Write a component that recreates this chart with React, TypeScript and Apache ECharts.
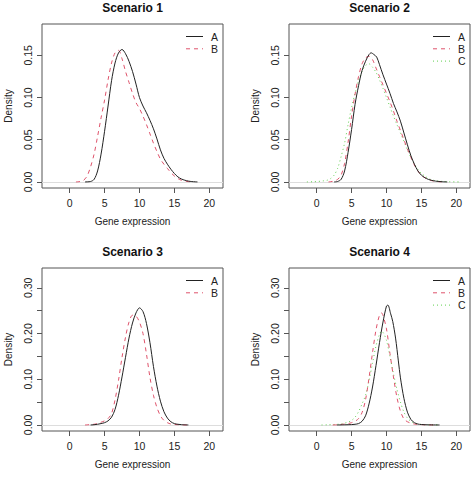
import React, { useEffect, useRef } from "react";
import * as echarts from "echarts";

// ---------- data ----------
const xTicks = [0, 5, 10, 15, 20];
const yTicksTop = [0, 0.05, 0.1, 0.15];
const yLabelsTop = [0, 0.05, 0.1, 0.15];
const yTicksBottom = [0, 0.05, 0.1, 0.15, 0.2, 0.25, 0.3];
const yLabelsBottom = [0, 0.1, 0.2, 0.3];
const titles = ["Scenario 1", "Scenario 2", "Scenario 3", "Scenario 4"];

// Scenario 1
const s1A_x = [2.2, 3, 3.5, 4, 4.5, 5, 5.5, 6, 6.5, 7, 7.5, 8, 8.5, 9, 9.5, 10, 10.5, 11, 11.5, 12, 12.5, 13, 13.5, 14, 14.5, 15, 15.5, 16, 16.5, 17, 17.5, 18.3];
const s1A_y = [0, 0.0005, 0.003, 0.013, 0.033, 0.06, 0.09, 0.12, 0.141, 0.153, 0.157, 0.152, 0.143, 0.131, 0.116, 0.1, 0.09, 0.082, 0.073, 0.063, 0.051, 0.038, 0.028, 0.021, 0.015, 0.01, 0.006, 0.0035, 0.002, 0.001, 0.0004, 0];
const s1B_x = [0.9, 1.5, 2, 2.5, 3, 3.5, 4, 4.5, 5, 5.5, 6, 6.5, 7, 7.5, 8, 8.5, 9, 9.5, 10, 10.5, 11, 11.5, 12, 12.5, 13, 13.5, 14, 14.5, 15, 15.5, 16, 16.5, 17, 17.6];
const s1B_y = [0, 0.0005, 0.002, 0.007, 0.018, 0.033, 0.054, 0.076, 0.097, 0.121, 0.141, 0.153, 0.156, 0.146, 0.131, 0.118, 0.105, 0.094, 0.087, 0.078, 0.068, 0.057, 0.046, 0.036, 0.027, 0.021, 0.016, 0.011, 0.007, 0.004, 0.002, 0.001, 0.0004, 0];

// Scenario 2
const s2A_x = [2.5, 3, 3.5, 4, 4.5, 5, 5.5, 6, 6.5, 7, 7.5, 7.8, 8.2, 8.6, 9, 9.5, 10, 10.5, 11, 11.5, 12, 12.5, 13, 13.5, 14, 14.5, 15, 15.5, 16, 16.5, 17, 17.5, 18, 18.7];
const s2A_y = [0, 0.0005, 0.003, 0.013, 0.035, 0.062, 0.092, 0.114, 0.132, 0.143, 0.151, 0.153, 0.151, 0.148, 0.139, 0.127, 0.116, 0.105, 0.093, 0.083, 0.072, 0.058, 0.044, 0.031, 0.021, 0.013, 0.008, 0.005, 0.003, 0.0018, 0.001, 0.0005, 0.0002, 0];
const s2B_x = [1.7, 2, 2.5, 3, 3.5, 4, 4.5, 5, 5.5, 6, 6.5, 7, 7.5, 8, 8.5, 9, 9.5, 10, 10.5, 11, 11.5, 12, 12.5, 13, 13.5, 14, 14.5, 15, 15.5, 16, 16.5, 17, 17.5, 18.5];
const s2B_y = [0, 0.0003, 0.001, 0.003, 0.008, 0.022, 0.047, 0.078, 0.104, 0.125, 0.14, 0.147, 0.149, 0.145, 0.135, 0.125, 0.115, 0.105, 0.095, 0.084, 0.072, 0.061, 0.05, 0.039, 0.029, 0.02, 0.013, 0.008, 0.005, 0.003, 0.0015, 0.0008, 0.0003, 0];
const s2C_x = [-1.4, -0.5, 0, 0.5, 1, 1.5, 2, 2.5, 3, 3.5, 4, 4.5, 5, 5.5, 6, 6.5, 7, 7.5, 8, 8.5, 9, 9.5, 10, 10.5, 11, 11.5, 12, 12.5, 13, 13.5, 14, 14.5, 15, 15.5, 16, 16.5, 17, 18, 19, 20.4];
const s2C_y = [0, 0.0002, 0.0004, 0.0008, 0.0013, 0.002, 0.004, 0.008, 0.016, 0.03, 0.046, 0.068, 0.088, 0.105, 0.12, 0.131, 0.138, 0.14, 0.136, 0.13, 0.121, 0.111, 0.1, 0.089, 0.078, 0.068, 0.058, 0.048, 0.038, 0.029, 0.021, 0.015, 0.01, 0.007, 0.004, 0.0025, 0.0015, 0.0006, 0.0002, 0];

// Scenario 3
const s3A_x = [3, 3.5, 4, 4.5, 5, 5.5, 6, 6.5, 7, 7.5, 8, 8.5, 9, 9.5, 10, 10.5, 11, 11.5, 12, 12.5, 13, 13.5, 14, 14.5, 15, 15.5, 16, 17];
const s3A_y = [0, 0.0005, 0.0015, 0.003, 0.005, 0.009, 0.017, 0.034, 0.065, 0.105, 0.148, 0.19, 0.223, 0.245, 0.256, 0.248, 0.222, 0.18, 0.128, 0.085, 0.052, 0.029, 0.015, 0.007, 0.003, 0.0015, 0.0007, 0];
const s3B_x = [2.2, 3, 3.5, 4, 4.5, 5, 5.5, 6, 6.5, 7, 7.5, 8, 8.5, 9, 9.5, 10, 10.5, 11, 11.5, 12, 12.5, 13, 13.5, 14, 14.5, 15, 16, 16.8];
const s3B_y = [0, 0.0008, 0.0015, 0.003, 0.006, 0.009, 0.014, 0.025, 0.055, 0.098, 0.148, 0.192, 0.225, 0.24, 0.238, 0.225, 0.2, 0.155, 0.104, 0.065, 0.038, 0.02, 0.01, 0.005, 0.002, 0.001, 0.0003, 0];

// Scenario 4
const s4A_x = [2.9, 4, 5, 5.5, 6, 6.5, 7, 7.5, 8, 8.5, 9, 9.5, 10, 10.2, 10.6, 10.9, 11.3, 11.7, 12, 12.5, 13, 13.5, 14, 14.5, 15, 16, 17.6];
const s4A_y = [0, 0.0003, 0.0008, 0.0015, 0.003, 0.008, 0.02, 0.046, 0.083, 0.13, 0.18, 0.225, 0.26, 0.262, 0.243, 0.226, 0.19, 0.14, 0.103, 0.058, 0.028, 0.012, 0.005, 0.002, 0.001, 0.0003, 0];
const s4B_x = [2.3, 3, 4, 4.5, 5, 5.5, 6, 6.5, 7, 7.5, 8, 8.5, 9, 9.3, 9.5, 10, 10.5, 11, 11.5, 12, 12.5, 13, 13.5, 14, 15, 16, 17];
const s4B_y = [0, 0.0005, 0.002, 0.003, 0.005, 0.008, 0.014, 0.027, 0.055, 0.103, 0.158, 0.208, 0.24, 0.245, 0.24, 0.21, 0.156, 0.105, 0.06, 0.03, 0.013, 0.007, 0.004, 0.002, 0.0007, 0.0002, 0];
const s4C_x = [0.7, 1.5, 2.5, 3, 3.5, 4, 4.5, 5, 5.5, 6, 6.5, 7, 7.5, 8, 8.5, 9, 9.3, 9.6, 10, 10.5, 11, 11.5, 12, 12.5, 13, 13.5, 14, 14.5, 15, 16, 17.6];
const s4C_y = [0, 0.0003, 0.001, 0.0015, 0.002, 0.004, 0.006, 0.01, 0.017, 0.029, 0.046, 0.065, 0.097, 0.135, 0.173, 0.198, 0.205, 0.2, 0.185, 0.15, 0.112, 0.078, 0.05, 0.028, 0.015, 0.008, 0.004, 0.002, 0.001, 0.0004, 0];

const seriesNames = ["A", "B", "C"];

// ---------- styling ----------
const FONT = '"Liberation Sans", Arial, Helvetica, sans-serif';
const COLORS = { A: "#222222", B: "#DF536B", C: "#61D04F" };
const DASH: Record<string, any> = { A: "solid", B: [4, 4], C: [1, 3] };
const BOX = "#555555";
const TXT = "#222222";

const panels = [
  { grid: { left: 42, top: 24, width: 181, height: 164 }, ymin: -0.0072, ymax: 0.1872, yTicks: yTicksTop, yLabels: yLabelsTop,
    curves: [[s1A_x, s1A_y], [s1B_x, s1B_y]] },
  { grid: { left: 289, top: 24, width: 181, height: 164 }, ymin: -0.0072, ymax: 0.1872, yTicks: yTicksTop, yLabels: yLabelsTop,
    curves: [[s2A_x, s2A_y], [s2B_x, s2B_y], [s2C_x, s2C_y]] },
  { grid: { left: 42, top: 268, width: 181, height: 163 }, ymin: -0.0132, ymax: 0.3432, yTicks: yTicksBottom, yLabels: yLabelsBottom,
    curves: [[s3A_x, s3A_y], [s3B_x, s3B_y]] },
  { grid: { left: 289, top: 268, width: 181, height: 163 }, ymin: -0.0132, ymax: 0.3432, yTicks: yTicksBottom, yLabels: yLabelsBottom,
    curves: [[s4A_x, s4A_y], [s4B_x, s4B_y], [s4C_x, s4C_y]] },
];

function buildOption() {
  const grids: any[] = [];
  const xAxes: any[] = [];
  const yAxes: any[] = [];
  const series: any[] = [];
  const graphics: any[] = [];

  panels.forEach((p, i) => {
    grids.push({ ...p.grid, show: true, borderColor: BOX, borderWidth: 1, backgroundColor: "#fff", containLabel: false });
    xAxes.push({
      type: "value", gridIndex: i, min: -3.96, max: 21.96, position: "bottom",
      axisLine: { show: false, onZero: false },
      splitLine: { show: false },
      axisTick: { show: true, length: 5, customValues: xTicks, lineStyle: { color: BOX, width: 1 } },
      axisLabel: { customValues: xTicks, fontSize: 10.5, color: TXT, fontFamily: FONT, margin: 9 },
      name: "Gene expression", nameLocation: "middle", nameGap: 28,
      nameTextStyle: { fontSize: 10, color: TXT, fontFamily: FONT },
    });
    yAxes.push({
      type: "value", gridIndex: i, min: p.ymin, max: p.ymax, position: "left",
      axisLine: { show: false, onZero: false },
      splitLine: { show: false },
      axisTick: { show: true, length: 5, customValues: p.yTicks, lineStyle: { color: BOX, width: 1 } },
      axisLabel: { customValues: p.yLabels, rotate: 90, fontSize: 10.5, color: TXT, fontFamily: FONT, margin: 9,
        formatter: (v: number) => v.toFixed(2) },
      name: "Density", nameLocation: "middle", nameGap: 29, nameRotate: 90,
      nameTextStyle: { fontSize: 10, color: TXT, fontFamily: FONT },
    });

    p.curves.forEach(([xs, ys], k) => {
      const nm = seriesNames[k];
      const s: any = {
        name: nm, type: "line", xAxisIndex: i, yAxisIndex: i,
        data: xs.map((x: number, j: number) => [x, ys[j]]),
        showSymbol: false, smooth: 0.3, z: 10 - k,
        lineStyle: { color: (COLORS as any)[nm], width: 1, type: DASH[nm] },
        itemStyle: { color: (COLORS as any)[nm] },
      };
      if (k === 0) {
        s.markLine = {
          silent: true, symbol: "none", label: { show: false },
          lineStyle: { color: "#dddddd", width: 1, type: "solid" },
          data: [{ yAxis: 0 }], z: 1,
        };
      }
      series.push(s);
    });

    // title
    const cx = p.grid.left + p.grid.width / 2;
    const ty = i < 2 ? 8 : 252;
    graphics.push({
      type: "text", x: cx, y: ty,
      style: { text: titles[i], fill: "#111", font: `bold 12px ${FONT}`, align: "center", verticalAlign: "middle", textAlign: "center", textVerticalAlign: "middle" },
    });

    // legend
    const lx0 = p.grid.left + 144;
    const lx1 = lx0 + 17;
    const rowY0 = p.grid.top + 12.5;
    p.curves.forEach((_c, k) => {
      const nm = seriesNames[k];
      const yy = rowY0 + k * 12.3;
      graphics.push({
        type: "line", shape: { x1: lx0, y1: yy, x2: lx1, y2: yy },
        style: { stroke: (COLORS as any)[nm], lineWidth: 1, lineDash: DASH[nm] === "solid" ? null : DASH[nm] },
      });
      graphics.push({
        type: "text", x: lx1 + 8, y: yy,
        style: { text: nm, fill: TXT, font: `10.5px ${FONT}`, align: "left", verticalAlign: "middle", textAlign: "left", textVerticalAlign: "middle" },
      });
    });
  });

  return {
    animation: false,
    backgroundColor: "#ffffff",
    grid: grids, xAxis: xAxes, yAxis: yAxes, series, graphic: graphics,
  };
}

export default function App() {
  const ref = useRef<HTMLDivElement>(null);
  useEffect(() => {
    if (!ref.current) return;
    const chart = echarts.init(ref.current, undefined, { renderer: "svg" });
    chart.setOption(buildOption() as any);
    return () => chart.dispose();
  }, []);
  return <div ref={ref} style={{ position: "fixed", left: 0, top: 0, width: 472, height: 480, background: "#fff" }} />;
}
